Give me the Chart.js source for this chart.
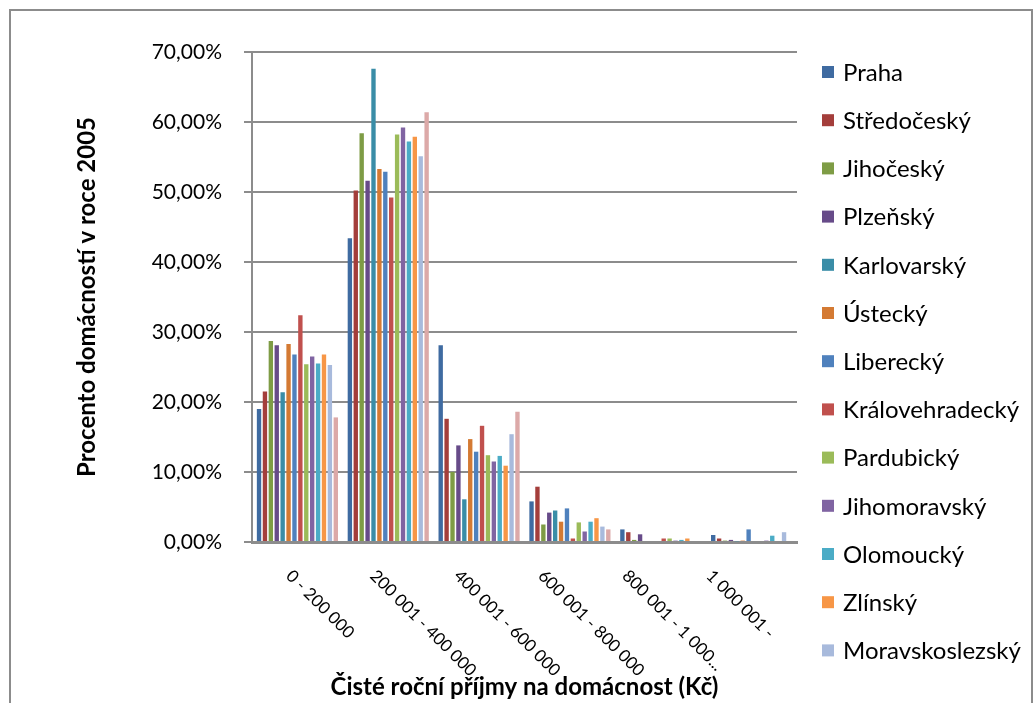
<!DOCTYPE html>
<html><head><meta charset="utf-8">
<script src="https://cdn.jsdelivr.net/npm/chart.js@4/dist/chart.umd.min.js"></script>
<style>html,body{margin:0;padding:0;background:#fff;overflow:hidden}#wrap{position:absolute;left:0;top:0;width:1035px;height:703px}</style>
</head><body><div id="wrap"><canvas id="c" width="1035" height="703"></canvas></div>
<script>
const categories = ["0 - 200 000", "200 001 - 400 000", "400 001 - 600 000", "600 001 - 800 000", "800 001 - 1 000...", "1 000 001 -"];
const regions = ["Praha", "Středočeský", "Jihočeský", "Plzeňský", "Karlovarský", "Ústecký", "Liberecký", "Královehradecký", "Pardubický", "Jihomoravský", "Olomoucký", "Zlínský", "Moravskoslezský", "Vysočina"];
const praha           = [19.0, 43.4, 28.1, 5.8, 1.8, 1.0];
const stredocesky     = [21.5, 50.2, 17.6, 7.9, 1.4, 0.5];
const jihocesky       = [28.7, 58.4, 10.0, 2.5, 0.3, 0.2];
const plzensky        = [28.1, 51.6, 13.8, 4.2, 1.1, 0.3];
const karlovarsky     = [21.4, 67.6, 6.1, 4.5, 0.0, 0.1];
const ustecky         = [28.3, 53.3, 14.7, 2.9, 0.0, 0.2];
const liberecky       = [26.8, 52.9, 12.9, 4.8, 0.0, 1.8];
const kralovehradecky = [32.4, 49.2, 16.6, 0.5, 0.5, 0.0];
const pardubicky      = [25.4, 58.2, 12.4, 2.8, 0.5, 0.0];
const jihomoravsky    = [26.5, 59.2, 11.5, 1.5, 0.2, 0.2];
const olomoucky       = [25.5, 57.2, 12.3, 2.9, 0.3, 0.9];
const zlinsky         = [26.8, 57.9, 10.9, 3.4, 0.5, 0.0];
const moravskoslezsky = [25.3, 55.1, 15.4, 2.2, 0.0, 1.4];
const vysocina        = [17.8, 61.4, 18.6, 1.8, 0.0, 0.0];
const yTicks = [0, 10, 20, 30, 40, 50, 60, 70];
const legendCount = 13;

const seriesValues = [praha, stredocesky, jihocesky, plzensky, karlovarsky, ustecky, liberecky,
  kralovehradecky, pardubicky, jihomoravsky, olomoucky, zlinsky, moravskoslezsky, vysocina];
const colors = ["#3F6BA1", "#A43E3B", "#7E9C45", "#674B89", "#3A8DA7", "#D47A33", "#4F81BD",
  "#C0504D", "#9BBB59", "#8064A2", "#4BACC6", "#F79646", "#A8BADC", "#DCA9A8"];

const datasets = regions.map((r, i) => ({
  label: r, data: seriesValues[i], backgroundColor: colors[i], borderWidth: 0,
  categoryPercentage: 0.91, barPercentage: 0.74
}));

const FONT = "Lato";

const framePlugin = {
  id: 'frame',
  beforeDraw(chart) {
    const ctx = chart.ctx;
    ctx.save();
    ctx.fillStyle = '#fff';
    ctx.fillRect(0, 0, chart.width, chart.height);
    ctx.strokeStyle = '#8c8c8c';
    ctx.lineWidth = 2;
    ctx.strokeRect(10, 10, 1022, 720);
    ctx.restore();
  },
  afterDraw(chart) {
    const ctx = chart.ctx;
    const xs = chart.scales.x;
    ctx.save();
    // category labels, rotated 45deg down-right
    ctx.font = "17px " + FONT;
    ctx.fillStyle = '#000';
    ctx.textAlign = 'left';
    ctx.textBaseline = 'top';
    categories.forEach((c, i) => {
      const x = xs.getPixelForValue(i) - 2.5 - 6.8 * i;
      const y = chart.chartArea.bottom + 25;
      ctx.save();
      ctx.translate(x, y);
      ctx.rotate(Math.PI / 4);
      ctx.fillText(c, 0, 0);
      ctx.restore();
    });
    // legend
    ctx.font = "24px " + FONT;
    ctx.textBaseline = 'middle';
    for (let i = 0; i < legendCount; i++) {
      const y = 72 + i * 48.2;
      ctx.fillStyle = colors[i];
      ctx.fillRect(822, y - 6, 12, 12);
      ctx.fillStyle = '#000';
      ctx.fillText(regions[i], 843, y + 1);
    }
    ctx.restore();
  }
};

new Chart(document.getElementById('c'), {
  type: 'bar',
  data: { labels: categories, datasets },
  options: {
    responsive: false,
    animation: false,
    devicePixelRatio: 1,
    layout: { padding: { left: 10, top: 52, right: 238, bottom: 0 } },
    plugins: { legend: { display: false }, tooltip: { enabled: false } },
    scales: {
      x: {
        grid: { display: false },
        border: { display: true, color: '#8c8c8c', width: 3 },
        ticks: { display: false },
        title: { display: true, text: 'Čisté roční příjmy na domácnost (Kč)', color: '#000',
          font: { family: FONT, size: 24, weight: 'bold' }, padding: { top: 0, bottom: 1 } },
        afterFit(s) { s.height = 161; }
      },
      y: {
        min: 0, max: 70,
        afterBuildTicks(s) { s.ticks = yTicks.map(v => ({ value: v })); },
        ticks: {
          color: '#000', font: { family: FONT, size: 21 }, padding: 22,
          callback: v => v.toFixed(2).replace('.', ',') + '%'
        },
        grid: { color: '#8c8c8c', lineWidth: 2, tickLength: 8, drawTicks: true },
        border: { display: true, color: '#8c8c8c', width: 2 },
        title: { display: true, text: 'Procento domácností v roce 2005', color: '#000',
          font: { family: FONT, size: 24, weight: 'bold' }, padding: { top: 63, bottom: 0 } },
        afterFit(s) { s.width = 242; }
      }
    }
  },
  plugins: [framePlugin]
});
</script>
</body></html>
